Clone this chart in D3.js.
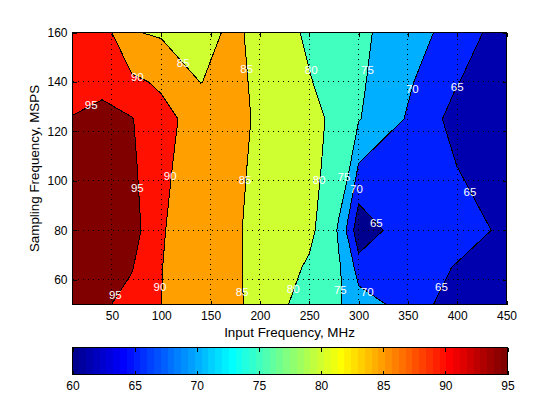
<!DOCTYPE html>
<html>
<head>
<meta charset="utf-8">
<script src="https://cdnjs.cloudflare.com/ajax/libs/d3/7.8.5/d3.min.js"></script>
<style>
  html, body { margin: 0; padding: 0; background: #fff; }
  svg { display: block; }
  text { font-family: "Liberation Sans", Arial, sans-serif; fill: #000; }
</style>
</head>
<body>
<svg id="chart" width="560" height="420"></svg>
<script>
// Measurement grid, MHz across and MSPS up
const inputFreqs = [10, 40, 70, 100, 140, 170, 200, 250, 280, 290, 300, 350, 400, 450];
const sampleFreqs = [50, 65, 80, 105, 125, 140, 160];

// SNR per sampling frequency, one value per input frequency
const snr50 = [97, 95.75, 93.4, 90.02, 87.5, 85.5, 84.35, 76.85, 75.33, 74.2, 73.1, 67.56, 62.64, 61.5];
const snr65 = [97.5, 98, 95.3, 90.09, 87.5, 85.5, 84.3, 79.24, 75.3, 73.8, 67, 67.5, 64.68, 62.5];
const snr80 = [98, 99, 97.2, 90.25, 88, 85.8, 83.8, 81.36, 74.55, 68.3, 61.7, 68.3, 67, 64.1];
const snr105 = [98.5, 99, 96, 90.76, 88, 85.7, 84.44, 82.1, 76.85, 75.5, 69.4, 68, 65.05, 62.5];
const snr125 = [95.3, 97.17, 95.25, 91.5, 87.97, 85.6, 84.74, 82.2, 78.07, 76.7, 75.3, 69.54, 63.05, 62];
const snr140 = [92.3, 93, 90.93, 89.3, 84.9, 86.5, 84, 80.32, 77.6, 76.7, 75.8, 70.66, 65.2, 61.35];
const snr160 = [93, 92.35, 85.3, 84.4, 83, 85.86, 84, 79.1, 77.2, 76.6, 76, 72.43, 67.76, 62.45];

const levels = [65, 70, 75, 80, 85, 90, 95];
const xTicks = [50, 100, 150, 200, 250, 300, 350, 400, 450];
const yTicks = [60, 80, 100, 120, 140, 160];
const barTicks = [60, 65, 70, 75, 80, 85, 90, 95];

// Contour labels, placed in data coordinates
const labelFreq = [122.3, 75.7, 186.6, 29, 252, 309, 354.5, 400, 109, 75.7, 185, 53.4, 98.7, 182, 260, 285.2, 297.9, 413, 318, 233.8, 281.5, 308.8, 384];
const labelRate = [147.8, 142, 145.2, 130.7, 144.8, 144.8, 137.1, 138, 102, 97.2, 100.3, 53.8, 57, 55, 100.3, 101.7, 96.9, 95.5, 83, 56.4, 55.9, 55, 57];
const labelText = ["85", "90", "85", "95", "80", "75", "70", "65", "90", "95", "85", "95", "90", "85", "80", "75", "70", "65", "65", "80", "75", "70", "65"];

// Colour limits of the map and the fill of the areas under the lowest level
const cMin = 60, cMax = 95;
const baseLevel = 61.2, pocketLevel = 60;

const plot = { left: 72.5, right: 506.5, top: 32.5, bottom: 304.5 };
const bar = { left: 72.5, right: 507.5, top: 347.5, bottom: 374.5 };

// MATLAB jet with 64 steps
function jetColor(i) {
    const ramp = k => {
        if (k < 1 || k > 47) return 0;
        if (k <= 16) return k / 16;
        if (k <= 31) return 1;
        return (48 - k) / 16;
    };
    const r = i >= 25 ? ramp(i - 24) : 0;
    const g = i >= 9 ? ramp(i - 8) : 0;
    const b = i <= 39 ? ramp(i + 8) : 0;
    return d3.rgb(r * 255, g * 255, b * 255).formatHex();
}
const levelColor = v => jetColor(Math.min(64, Math.floor((v - cMin) / (cMax - cMin) * 64) + 1));

const svg = d3.select('#chart');
const x = d3.scaleLinear().domain([10, 450]).range([plot.left, plot.right]);
const y = d3.scaleLinear().domain([50, 160]).range([plot.bottom, plot.top]);

svg.append('defs').append('clipPath').attr('id', 'plot-clip')
    .append('rect')
    .attr('x', plot.left).attr('y', plot.top)
    .attr('width', plot.right - plot.left).attr('height', plot.bottom - plot.top);

// Grid index -> data value, the grid is not evenly spaced
const xIndex = d3.scaleLinear().domain(d3.range(inputFreqs.length)).range(inputFreqs).clamp(true);
const yIndex = d3.scaleLinear().domain(d3.range(sampleFreqs.length)).range(sampleFreqs).clamp(true);

const gridPath = d3.geoPath(d3.geoTransform({
    point(cx, cy) {
        this.stream.point(x(xIndex(cx - 0.5)), y(yIndex(cy - 0.5)));
    }
}));

const values = [snr50, snr65, snr80, snr105, snr125, snr140, snr160].flat();
const bands = d3.contours()
    .size([inputFreqs.length, sampleFreqs.length])
    .thresholds(levels)(values);

const g = svg.append('g').attr('clip-path', 'url(#plot-clip)');

g.append('rect')
    .attr('x', plot.left).attr('y', plot.top)
    .attr('width', plot.right - plot.left).attr('height', plot.bottom - plot.top)
    .attr('fill', levelColor(baseLevel));

g.selectAll('path.band')
    .data(bands)
    .join('path')
    .attr('class', 'band')
    .attr('d', gridPath)
    .attr('fill', d => levelColor(d.value));

// The closed pocket under 65 is darker than the big area on the right
const pockets = bands[0].coordinates.flatMap(poly => poly.slice(1));
g.append('path')
    .datum({ type: 'MultiPolygon', coordinates: pockets.map(ring => [ring]) })
    .attr('d', gridPath)
    .attr('fill', levelColor(pocketLevel));

g.selectAll('path.line')
    .data(bands)
    .join('path')
    .attr('class', 'line')
    .attr('d', gridPath)
    .attr('fill', 'none')
    .attr('stroke', '#000')
    .attr('stroke-width', 1)
    .attr('shape-rendering', 'crispEdges');

// Dotted grid
const grid = svg.append('g');
grid.selectAll('line.gx')
    .data(xTicks.slice(0, -1))
    .join('line')
    .attr('class', 'gx')
    .attr('x1', d => Math.floor(x(d)) + 0.5).attr('x2', d => Math.floor(x(d)) + 0.5)
    .attr('y1', plot.bottom).attr('y2', plot.top);
grid.selectAll('line.gy')
    .data(yTicks.slice(0, -1))
    .join('line')
    .attr('class', 'gy')
    .attr('y1', d => Math.floor(y(d)) + 0.5).attr('y2', d => Math.floor(y(d)) + 0.5)
    .attr('x1', plot.left).attr('x2', plot.right);
grid.selectAll('line')
    .attr('stroke', '#000')
    .attr('stroke-width', 1)
    .attr('stroke-dasharray', '1 4')
    .attr('shape-rendering', 'crispEdges');

// Contour labels
svg.append('g').selectAll('text')
    .data(labelText)
    .join('text')
    .attr('x', (d, i) => x(labelFreq[i]))
    .attr('y', (d, i) => y(labelRate[i]))
    .attr('dy', '0.35em')
    .attr('text-anchor', 'middle')
    .attr('font-size', 11.5)
    .style('fill', '#fff')
    .text(d => d);

// Axes, ticks point inwards on all four sides
function styleAxis(sel) {
    sel.selectAll('.domain').remove();
    sel.selectAll('line').attr('stroke', '#000').attr('shape-rendering', 'crispEdges');
    sel.selectAll('text').attr('font-size', 12).attr('font-family', null);
}

svg.append('g').attr('transform', `translate(0,${plot.bottom})`)
    .call(d3.axisBottom(x).tickValues(xTicks).tickSize(-4).tickPadding(7))
    .call(styleAxis);
svg.append('g').attr('transform', `translate(0,${plot.top})`)
    .call(d3.axisTop(x).tickValues(xTicks).tickSize(-4).tickFormat(''))
    .call(styleAxis);
svg.append('g').attr('transform', `translate(${plot.left},0)`)
    .call(d3.axisLeft(y).tickValues(yTicks).tickSize(-4).tickPadding(5))
    .call(styleAxis);
svg.append('g').attr('transform', `translate(${plot.right},0)`)
    .call(d3.axisRight(y).tickValues(yTicks).tickSize(-4).tickFormat(''))
    .call(styleAxis);

svg.append('rect')
    .attr('x', plot.left).attr('y', plot.top)
    .attr('width', plot.right - plot.left).attr('height', plot.bottom - plot.top)
    .attr('fill', 'none').attr('stroke', '#000')
    .attr('shape-rendering', 'crispEdges');

svg.append('text')
    .attr('x', (plot.left + plot.right) / 2)
    .attr('y', 332)
    .attr('dy', '0.35em')
    .attr('text-anchor', 'middle')
    .attr('font-size', 13.4)
    .text('Input Frequency, MHz');

svg.append('text')
    .attr('transform', `translate(34,${(plot.top + plot.bottom) / 2}) rotate(-90)`)
    .attr('dy', '0.35em')
    .attr('text-anchor', 'middle')
    .attr('font-size', 13.4)
    .text('Sampling Frequency, MSPS');

// Colour bar
const barX = d3.scaleLinear().domain([cMin, cMax]).range([bar.left, bar.right]);
const steps = d3.range(64);
svg.append('g').selectAll('rect')
    .data(steps)
    .join('rect')
    .attr('x', i => barX(cMin + i / 64 * (cMax - cMin)))
    .attr('y', bar.top)
    .attr('width', (bar.right - bar.left) / 64 + 0.5)
    .attr('height', bar.bottom - bar.top)
    .attr('fill', i => jetColor(i + 1))
    .attr('shape-rendering', 'crispEdges');

svg.append('g').attr('transform', `translate(0,${bar.bottom})`)
    .call(d3.axisBottom(barX).tickValues(barTicks).tickSize(-4).tickPadding(7))
    .call(styleAxis);
svg.append('g').attr('transform', `translate(0,${bar.top})`)
    .call(d3.axisTop(barX).tickValues(barTicks).tickSize(-4).tickFormat(''))
    .call(styleAxis);

svg.append('rect')
    .attr('x', bar.left).attr('y', bar.top)
    .attr('width', bar.right - bar.left).attr('height', bar.bottom - bar.top)
    .attr('fill', 'none').attr('stroke', '#000')
    .attr('shape-rendering', 'crispEdges');
</script>
</body>
</html>
